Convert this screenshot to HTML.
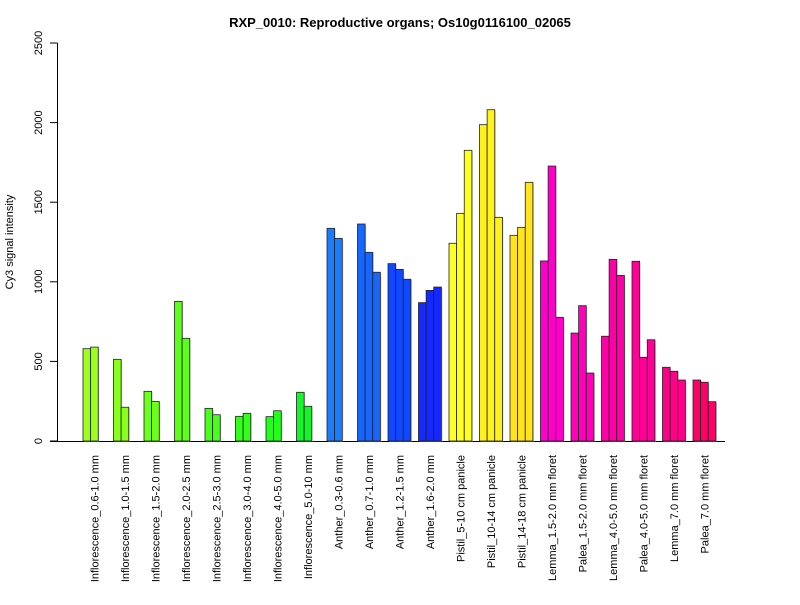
<!DOCTYPE html>
<html><head><meta charset="utf-8"><style>
body{margin:0;background:#fff}
svg text{font-family:"Liberation Sans",Arial,sans-serif}
</style></head><body>
<svg id="chart" width="800" height="600" xmlns="http://www.w3.org/2000/svg">
<text x="400" y="27" text-anchor="middle" font-size="13" font-weight="bold">RXP_0010: Reproductive organs; Os10g0116100_02065</text>
<text transform="translate(13,242) rotate(-90)" text-anchor="middle" font-size="11">Cy3 signal intensity</text>
<g id="plot"></g>
</svg>
<script>
const categories=["Inflorescence_0.6-1.0 mm","Inflorescence_1.0-1.5 mm","Inflorescence_1.5-2.0 mm","Inflorescence_2.0-2.5 mm","Inflorescence_2.5-3.0 mm","Inflorescence_3.0-4.0 mm","Inflorescence_4.0-5.0 mm","Inflorescence_5.0-10 mm","Anther_0.3-0.6 mm","Anther_0.7-1.0 mm","Anther_1.2-1.5 mm","Anther_1.6-2.0 mm","Pistil_5-10 cm panicle","Pistil_10-14 cm panicle","Pistil_14-18 cm panicle","Lemma_1.5-2.0 mm floret","Palea_1.5-2.0 mm floret","Lemma_4.0-5.0 mm floret","Palea_4.0-5.0 mm floret","Lemma_7.0 mm floret","Palea_7.0 mm floret"];
const rep1=[580,513,312,877,205,155,153,306,1336,1363,1114,869,1242,1987,1292,1131,678,658,1129,463,383];
const rep2=[590,212,249,645,165,174,190,218,1273,1185,1078,946,1430,2081,1342,1727,850,1141,526,438,369];
const rep3=[null,null,null,null,null,null,null,null,null,1060,1016,967,1826,1405,1625,777,427,1040,636,383,247];
const yTicks=[0,500,1000,1500,2000,2500];
const colors=["#9cff1c","#88ff1c","#70ff1c","#5cff1c","#48ff1c","#34ff1c","#22ff1c","#14f52a","#1a7cff","#1666ff","#1048ff","#1428ff","#ffff22","#fff21c","#ffe41e","#ff00cc","#ff00bb","#ff00a8","#ff0098","#ff0088","#ff0066"];
const NS="http://www.w3.org/2000/svg";
const g=document.getElementById('plot');
const y0=441,yTop=43,vmax=2500;
const yScale=v=>y0-(v/vmax)*(y0-yTop);
const pitch=30.5,x0=83,bw=pitch/4;
const xScale=i=>x0+i*pitch;
function mk(t,a){const e=document.createElementNS(NS,t);for(const k in a)e.setAttribute(k,a[k]);g.appendChild(e);return e;}
let ax=mk('line',{x1:57.5,x2:57.5,y1:yScale(0),y2:yScale(2500),stroke:'#000'});


yTicks.forEach(t=>{
 const y=yScale(t);
 let l=mk('line',{x1:50,x2:57.5,y1:y,y2:y,stroke:'#000'});
 
 
 let tx=mk('text',{transform:`translate(42,${y}) rotate(-90)`,'text-anchor':'middle','font-size':11});
 tx.textContent=t;
 
 
});
let xa=mk('line',{x1:50,x2:725,y1:441.5,y2:441.5,stroke:'#000'});


categories.forEach((c,i)=>{
 [rep1[i],rep2[i],rep3[i]].forEach((v,j)=>{
  if(v==null)return;
  const x=xScale(i)+j*bw,y=yScale(v);
  let s=mk('rect',{x:x+1,y:y+1,width:bw,height:y0-y,fill:'#999','fill-opacity':0.5});
  
  
  let r=mk('rect',{x:x,y:y,width:bw,height:y0-y,fill:colors[i],stroke:'#222','stroke-width':0.8});
  
  
 });
 const cx=xScale(i)+1.5*bw+4;
 let t=mk('text',{transform:`translate(${cx},455) rotate(-90)`,'text-anchor':'end','font-size':11});
 t.textContent=c;
 
 
});
</script>
</body></html>
